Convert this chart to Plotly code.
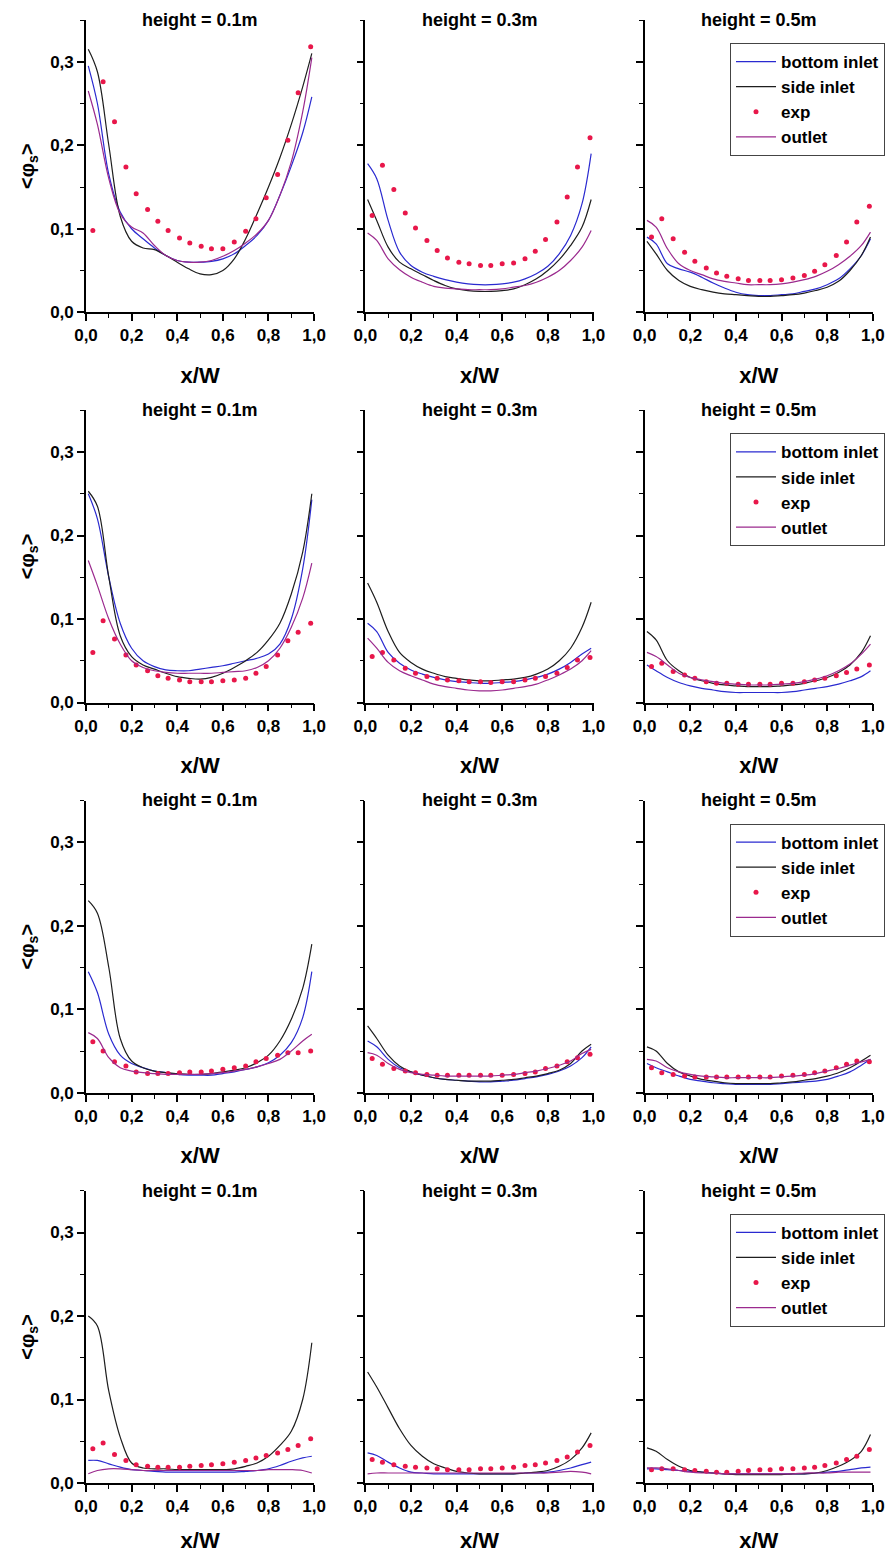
import plotly.graph_objects as go
from plotly.subplots import make_subplots

# ---------------- data ----------------
panel_titles = ["height = 0.1m", "height = 0.3m", "height = 0.5m"]
x_tick_vals = [0.0, 0.2, 0.4, 0.6, 0.8, 1.0]
y_tick_vals = [0.0, 0.1, 0.2, 0.3]

x_line = [0.01, 0.05, 0.10, 0.15, 0.20, 0.25, 0.30, 0.35, 0.40, 0.45, 0.50,
          0.55, 0.60, 0.65, 0.70, 0.75, 0.80, 0.85, 0.90, 0.95, 0.99]
x_exp = [0.030, 0.075, 0.125, 0.175, 0.220, 0.270, 0.315, 0.360, 0.410, 0.455, 0.505,
         0.550, 0.600, 0.650, 0.700, 0.745, 0.790, 0.840, 0.885, 0.930, 0.985]

# each list holds [height 0.1m, height 0.3m, height 0.5m]
bottom_row1 = [
    [0.295, 0.250, 0.165, 0.120, 0.100, 0.088, 0.077, 0.068, 0.062, 0.060, 0.060, 0.061, 0.064, 0.070, 0.080, 0.092, 0.110, 0.140, 0.175, 0.215, 0.258],
    [0.178, 0.160, 0.110, 0.072, 0.056, 0.048, 0.043, 0.039, 0.036, 0.034, 0.033, 0.033, 0.034, 0.036, 0.040, 0.046, 0.055, 0.070, 0.092, 0.130, 0.190],
    [0.090, 0.082, 0.058, 0.052, 0.048, 0.042, 0.035, 0.029, 0.024, 0.021, 0.020, 0.020, 0.021, 0.022, 0.025, 0.028, 0.033, 0.040, 0.052, 0.068, 0.088],
]
side_row1 = [
    [0.315, 0.288, 0.200, 0.115, 0.085, 0.077, 0.075, 0.068, 0.060, 0.052, 0.046, 0.045, 0.050, 0.064, 0.088, 0.118, 0.150, 0.185, 0.225, 0.270, 0.310],
    [0.135, 0.110, 0.078, 0.060, 0.052, 0.045, 0.038, 0.032, 0.028, 0.026, 0.025, 0.025, 0.026, 0.028, 0.033, 0.040, 0.050, 0.063, 0.080, 0.102, 0.135],
    [0.085, 0.070, 0.050, 0.038, 0.031, 0.027, 0.024, 0.022, 0.021, 0.020, 0.019, 0.019, 0.020, 0.021, 0.023, 0.026, 0.030, 0.037, 0.050, 0.068, 0.090],
]
outlet_row1 = [
    [0.265, 0.225, 0.160, 0.118, 0.102, 0.095, 0.080, 0.068, 0.062, 0.060, 0.060, 0.062, 0.067, 0.074, 0.083, 0.094, 0.110, 0.140, 0.180, 0.240, 0.305],
    [0.095, 0.086, 0.064, 0.051, 0.042, 0.036, 0.031, 0.029, 0.028, 0.027, 0.027, 0.027, 0.028, 0.030, 0.032, 0.036, 0.042, 0.050, 0.062, 0.078, 0.098],
    [0.110, 0.102, 0.076, 0.058, 0.050, 0.045, 0.040, 0.037, 0.035, 0.033, 0.033, 0.033, 0.034, 0.036, 0.039, 0.043, 0.049, 0.057, 0.067, 0.080, 0.096],
]
exp_row1 = [
    [0.098, 0.276, 0.228, 0.174, 0.142, 0.123, 0.109, 0.098, 0.089, 0.083, 0.079, 0.076, 0.076, 0.084, 0.097, 0.112, 0.137, 0.165, 0.206, 0.263, 0.318],
    [0.116, 0.176, 0.147, 0.119, 0.101, 0.086, 0.074, 0.065, 0.060, 0.058, 0.056, 0.056, 0.058, 0.059, 0.064, 0.073, 0.087, 0.108, 0.138, 0.174, 0.209],
    [0.090, 0.112, 0.088, 0.072, 0.061, 0.053, 0.047, 0.043, 0.040, 0.038, 0.038, 0.038, 0.039, 0.041, 0.044, 0.049, 0.057, 0.068, 0.084, 0.108, 0.127],
]

bottom_row2 = [
    [0.250, 0.220, 0.150, 0.095, 0.065, 0.050, 0.043, 0.039, 0.038, 0.038, 0.040, 0.042, 0.044, 0.047, 0.050, 0.053, 0.058, 0.070, 0.100, 0.160, 0.243],
    [0.095, 0.085, 0.060, 0.047, 0.039, 0.034, 0.030, 0.027, 0.025, 0.024, 0.023, 0.023, 0.024, 0.025, 0.027, 0.030, 0.034, 0.040, 0.048, 0.058, 0.065],
    [0.045, 0.038, 0.030, 0.024, 0.020, 0.017, 0.015, 0.013, 0.012, 0.012, 0.012, 0.012, 0.012, 0.013, 0.015, 0.017, 0.019, 0.022, 0.026, 0.031, 0.038],
]
side_row2 = [
    [0.253, 0.235, 0.150, 0.080, 0.055, 0.045, 0.040, 0.035, 0.031, 0.029, 0.028, 0.030, 0.035, 0.042, 0.050, 0.060, 0.075, 0.095, 0.130, 0.180, 0.250],
    [0.143, 0.120, 0.085, 0.060, 0.048, 0.040, 0.035, 0.031, 0.029, 0.027, 0.026, 0.026, 0.027, 0.028, 0.030, 0.034, 0.040, 0.050, 0.065, 0.090, 0.120],
    [0.085, 0.075, 0.050, 0.038, 0.030, 0.026, 0.023, 0.021, 0.020, 0.019, 0.019, 0.019, 0.020, 0.021, 0.023, 0.026, 0.030, 0.036, 0.045, 0.060, 0.080],
]
outlet_row2 = [
    [0.170, 0.140, 0.100, 0.070, 0.050, 0.042, 0.038, 0.036, 0.035, 0.035, 0.035, 0.035, 0.036, 0.037, 0.038, 0.042, 0.050, 0.065, 0.090, 0.125, 0.167],
    [0.077, 0.065, 0.048, 0.038, 0.032, 0.027, 0.022, 0.019, 0.017, 0.015, 0.014, 0.014, 0.015, 0.017, 0.019, 0.022, 0.027, 0.033, 0.040, 0.050, 0.062],
    [0.060, 0.055, 0.045, 0.035, 0.030, 0.027, 0.025, 0.023, 0.022, 0.021, 0.021, 0.021, 0.022, 0.023, 0.025, 0.028, 0.032, 0.038, 0.046, 0.058, 0.070],
]
exp_row2 = [
    [0.060, 0.098, 0.076, 0.057, 0.045, 0.038, 0.032, 0.029, 0.027, 0.025, 0.025, 0.025, 0.026, 0.027, 0.029, 0.035, 0.043, 0.057, 0.074, 0.084, 0.095],
    [0.055, 0.060, 0.051, 0.041, 0.035, 0.031, 0.029, 0.027, 0.026, 0.025, 0.025, 0.024, 0.025, 0.025, 0.027, 0.029, 0.031, 0.035, 0.042, 0.051, 0.054],
    [0.043, 0.047, 0.037, 0.033, 0.029, 0.025, 0.023, 0.023, 0.022, 0.022, 0.022, 0.022, 0.023, 0.023, 0.025, 0.027, 0.029, 0.032, 0.036, 0.040, 0.045],
]

bottom_row3 = [
    [0.145, 0.120, 0.070, 0.045, 0.035, 0.030, 0.026, 0.024, 0.022, 0.021, 0.021, 0.021, 0.023, 0.025, 0.028, 0.031, 0.036, 0.045, 0.060, 0.090, 0.145],
    [0.062, 0.055, 0.040, 0.030, 0.025, 0.021, 0.018, 0.016, 0.015, 0.014, 0.013, 0.013, 0.014, 0.015, 0.017, 0.019, 0.022, 0.026, 0.032, 0.042, 0.055],
    [0.035, 0.030, 0.025, 0.020, 0.016, 0.014, 0.012, 0.011, 0.010, 0.010, 0.010, 0.010, 0.011, 0.012, 0.013, 0.014, 0.016, 0.020, 0.025, 0.033, 0.040],
]
side_row3 = [
    [0.230, 0.215, 0.150, 0.065, 0.038, 0.030, 0.026, 0.024, 0.023, 0.022, 0.022, 0.023, 0.025, 0.027, 0.030, 0.036, 0.045, 0.062, 0.088, 0.125, 0.178],
    [0.080, 0.065, 0.045, 0.032, 0.025, 0.021, 0.018, 0.016, 0.015, 0.014, 0.014, 0.014, 0.015, 0.016, 0.018, 0.020, 0.023, 0.027, 0.035, 0.050, 0.058],
    [0.055, 0.050, 0.035, 0.025, 0.020, 0.016, 0.014, 0.012, 0.011, 0.011, 0.011, 0.011, 0.012, 0.013, 0.015, 0.017, 0.020, 0.024, 0.030, 0.038, 0.045],
]
outlet_row3 = [
    [0.072, 0.065, 0.042, 0.030, 0.026, 0.024, 0.023, 0.022, 0.022, 0.022, 0.022, 0.023, 0.024, 0.026, 0.028, 0.031, 0.035, 0.040, 0.050, 0.062, 0.070],
    [0.048, 0.045, 0.035, 0.028, 0.024, 0.022, 0.021, 0.020, 0.020, 0.020, 0.020, 0.020, 0.021, 0.022, 0.024, 0.026, 0.029, 0.033, 0.038, 0.047, 0.052],
    [0.040, 0.038, 0.030, 0.025, 0.022, 0.020, 0.019, 0.018, 0.018, 0.018, 0.018, 0.018, 0.019, 0.020, 0.021, 0.023, 0.026, 0.029, 0.033, 0.037, 0.040],
]
exp_row3 = [
    [0.061, 0.050, 0.037, 0.032, 0.025, 0.023, 0.023, 0.023, 0.024, 0.025, 0.025, 0.026, 0.028, 0.030, 0.032, 0.037, 0.041, 0.045, 0.048, 0.048, 0.050],
    [0.041, 0.034, 0.029, 0.026, 0.024, 0.022, 0.021, 0.021, 0.021, 0.021, 0.021, 0.021, 0.021, 0.022, 0.023, 0.025, 0.029, 0.032, 0.037, 0.042, 0.046],
    [0.030, 0.024, 0.022, 0.020, 0.019, 0.019, 0.019, 0.019, 0.019, 0.019, 0.019, 0.019, 0.020, 0.021, 0.022, 0.024, 0.026, 0.030, 0.034, 0.038, 0.037],
]

bottom_row4 = [
    [0.027, 0.027, 0.023, 0.019, 0.016, 0.015, 0.014, 0.013, 0.013, 0.013, 0.013, 0.013, 0.013, 0.013, 0.014, 0.015, 0.017, 0.021, 0.026, 0.030, 0.032],
    [0.036, 0.033, 0.025, 0.018, 0.013, 0.012, 0.011, 0.011, 0.011, 0.011, 0.011, 0.011, 0.011, 0.011, 0.012, 0.012, 0.013, 0.015, 0.018, 0.022, 0.025],
    [0.017, 0.017, 0.016, 0.015, 0.014, 0.013, 0.012, 0.011, 0.011, 0.011, 0.011, 0.011, 0.011, 0.011, 0.011, 0.012, 0.013, 0.014, 0.016, 0.018, 0.019],
]
side_row4 = [
    [0.200, 0.188, 0.110, 0.055, 0.024, 0.018, 0.017, 0.017, 0.016, 0.016, 0.016, 0.016, 0.016, 0.017, 0.020, 0.024, 0.032, 0.045, 0.062, 0.100, 0.168],
    [0.133, 0.115, 0.090, 0.065, 0.045, 0.032, 0.023, 0.018, 0.014, 0.012, 0.011, 0.011, 0.011, 0.011, 0.012, 0.013, 0.015, 0.020, 0.028, 0.042, 0.060],
    [0.042, 0.038, 0.028, 0.020, 0.015, 0.013, 0.012, 0.011, 0.010, 0.010, 0.010, 0.010, 0.010, 0.011, 0.011, 0.012, 0.015, 0.020, 0.027, 0.038, 0.058],
]
outlet_row4 = [
    [0.011, 0.015, 0.017, 0.017, 0.016, 0.015, 0.015, 0.015, 0.015, 0.015, 0.015, 0.015, 0.015, 0.015, 0.015, 0.015, 0.016, 0.016, 0.016, 0.015, 0.012],
    [0.011, 0.012, 0.012, 0.012, 0.012, 0.012, 0.012, 0.012, 0.012, 0.012, 0.012, 0.012, 0.012, 0.012, 0.012, 0.012, 0.012, 0.013, 0.014, 0.013, 0.011],
    [0.018, 0.018, 0.017, 0.015, 0.013, 0.012, 0.012, 0.011, 0.011, 0.011, 0.011, 0.011, 0.011, 0.011, 0.012, 0.012, 0.012, 0.013, 0.013, 0.013, 0.013],
]
exp_row4 = [
    [0.041, 0.048, 0.034, 0.027, 0.022, 0.020, 0.019, 0.019, 0.019, 0.020, 0.021, 0.022, 0.023, 0.025, 0.027, 0.030, 0.033, 0.036, 0.040, 0.045, 0.053],
    [0.028, 0.025, 0.022, 0.020, 0.019, 0.018, 0.017, 0.016, 0.016, 0.016, 0.017, 0.017, 0.018, 0.019, 0.021, 0.022, 0.024, 0.027, 0.031, 0.037, 0.045],
    [0.016, 0.017, 0.017, 0.016, 0.015, 0.014, 0.013, 0.013, 0.014, 0.015, 0.016, 0.016, 0.017, 0.017, 0.018, 0.019, 0.021, 0.024, 0.028, 0.032, 0.040],
]

bottom_rows = [bottom_row1, bottom_row2, bottom_row3, bottom_row4]
side_rows = [side_row1, side_row2, side_row3, side_row4]
outlet_rows = [outlet_row1, outlet_row2, outlet_row3, outlet_row4]
exp_rows = [exp_row1, exp_row2, exp_row3, exp_row4]

# ---------------- style ----------------
BLUE = "#2a2ad0"
BLACK = "#1e1e1e"
RED = "#e8174a"
PURPLE = "#9b2a8e"
FONT = "Arial, Liberation Sans, sans-serif"
WT = "bold"

W, H = 890, 1553
ML, MR, MT, MB = 86, 17, 20, 70
PW, PH = W - ML - MR, H - MT - MB

fig = make_subplots(rows=4, cols=3, horizontal_spacing=51 / PW, vertical_spacing=98 / PH)

for r in range(4):
    leg = "legend" if r == 0 else f"legend{r + 1}"
    for c in range(3):
        show = c == 2
        fig.add_trace(go.Scatter(x=x_line, y=bottom_rows[r][c], mode="lines", name="bottom inlet",
                                 line=dict(color=BLUE, width=1.2, shape="spline"),
                                 showlegend=show, legend=leg), row=r + 1, col=c + 1)
        fig.add_trace(go.Scatter(x=x_line, y=side_rows[r][c], mode="lines", name="side inlet",
                                 line=dict(color=BLACK, width=1.2, shape="spline"),
                                 showlegend=show, legend=leg), row=r + 1, col=c + 1)
        fig.add_trace(go.Scatter(x=x_exp, y=exp_rows[r][c], mode="markers", name="exp",
                                 marker=dict(color=RED, size=5, symbol="circle"),
                                 showlegend=show, legend=leg), row=r + 1, col=c + 1)
        fig.add_trace(go.Scatter(x=x_line, y=outlet_rows[r][c], mode="lines", name="outlet",
                                 line=dict(color=PURPLE, width=1.2, shape="spline"),
                                 showlegend=show, legend=leg), row=r + 1, col=c + 1)

fig.update_xaxes(range=[0, 1.001], tickvals=x_tick_vals, tickformat=".1f",
                 ticks="outside", ticklen=7, tickwidth=1.6, tickcolor="black",
                 showline=True, linecolor="black", linewidth=1.6,
                 showgrid=False, zeroline=False,
                 minor=dict(dtick=0.1, tick0=0, ticks="outside", ticklen=4, tickwidth=1.3, tickcolor="black"),
                 tickfont=dict(size=17, family=FONT, color="black", weight=WT),
                 title=dict(text="x/W", font=dict(size=22, family=FONT, color="black", weight=WT), standoff=23))
fig.update_yaxes(range=[0, 0.35], tickvals=y_tick_vals, tickformat=".1f",
                 ticks="outside", ticklen=7, tickwidth=1.6, tickcolor="black",
                 showline=True, linecolor="black", linewidth=1.6,
                 showgrid=False, zeroline=False,
                 minor=dict(dtick=0.05, tick0=0, ticks="outside", ticklen=4, tickwidth=1.3, tickcolor="black"),
                 tickfont=dict(size=17, family=FONT, color="black", weight=WT),
                 showticklabels=False)
for r in range(4):
    fig.update_yaxes(showticklabels=True, row=r + 1, col=1,
                     title=dict(text="&lt;φ<sub>s</sub>&gt;", font=dict(size=20, family=FONT, color="black", weight=WT),
                                standoff=10))

annotations = []
legends = {}
for r in range(4):
    for c in range(3):
        idx = r * 3 + c + 1
        xa = fig.layout["xaxis" if idx == 1 else f"xaxis{idx}"]
        ya = fig.layout["yaxis" if idx == 1 else f"yaxis{idx}"]
        xc = (xa.domain[0] + xa.domain[1]) / 2
        yt = ya.domain[1]
        annotations.append(dict(text=panel_titles[c], x=xc, y=yt, xref="paper", yref="paper",
                                xanchor="center", yanchor="middle", showarrow=False, yshift=0,
                                font=dict(size=18, family=FONT, color="black", weight=WT)))
        if c == 2:
            key = "legend" if r == 0 else f"legend{r + 1}"
            legends[key] = dict(x=(730 - ML) / PW, y=yt - 23 / PH, xref="paper", yref="paper",
                                xanchor="left", yanchor="top",
                                bgcolor="white", bordercolor="#444444", borderwidth=1,
                                font=dict(size=17, family=FONT, color="black", weight=WT),
                                tracegroupgap=0, itemwidth=40, traceorder="normal")

fig.update_layout(width=W, height=H, margin=dict(l=ML, r=MR, t=MT, b=MB, autoexpand=False),
                  paper_bgcolor="white", plot_bgcolor="white", separators=",.",
                  font=dict(family=FONT, color="black"), annotations=annotations, **legends)

fig.write_html("out.html")
